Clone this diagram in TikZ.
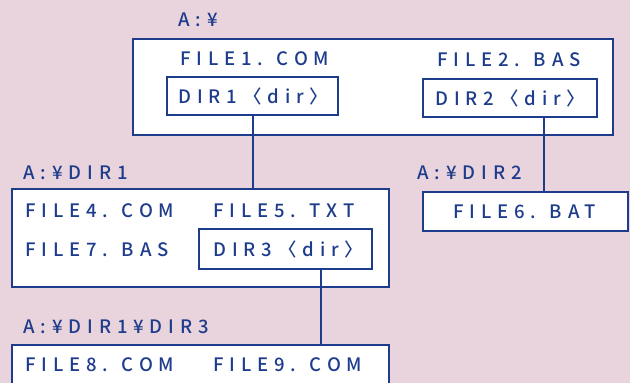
\documentclass[tikz,border=0pt]{standalone}
\usepackage{fontspec}
\setmainfont{Noto Sans CJK JP}
\newfontfamily\dosfont[LetterSpace=32, UprightFont=* Medium]{Noto Sans CJK JP}
\usepackage{xcolor}
\definecolor{dosink}{HTML}{1E3C8C}
\definecolor{dospaper}{HTML}{E9D3DC}

\begin{document}
\begin{tikzpicture}[x=1pt, y=-1pt,
                    every node/.style={dosink, font=\dosfont\fontsize{18.5}{22}\selectfont},
                    fname/.style={anchor=west, inner sep=0pt},
                    dirbox/.style={draw=dosink, line width=2pt, fill=white, inner sep=0pt},
                    treeline/.style={dosink, line width=2pt}]

  %% 紙の地
  \useasboundingbox (0,0) rectangle (630,383);
  \fill[dospaper] (0,0) rectangle (630,383);
  \clip (0,0) rectangle (630,383);

  %% ルートディレクトリ A:¥
  \node[fname] (rootpath) at (178,20) {A:¥};
  \node[dirbox, minimum width=480pt, minimum height=96pt] (rootbox) at (373,87) {};
  \node[dirbox, minimum width=171pt, minimum height=38pt] (dir1box) at (252.5,96) {};
  \node[dirbox, minimum width=174pt, minimum height=38pt] (dir2box) at (510,98) {};
  \node[fname] (file1) at (180,59) {FILE1. COM};
  \node[fname] (file2) at (437,60) {FILE2. BAS};
  \node[fname] (dir1) at (178,96) {DIR1〈dir〉};
  \node[fname] (dir2) at (435,98) {DIR2〈dir〉};

  %% サブディレクトリ A:¥DIR1
  \node[fname] (sub1path) at (23,173) {A:¥DIR1};
  \node[dirbox, minimum width=377pt, minimum height=98pt] (sub1box) at (200.5,238) {};
  \node[dirbox, minimum width=173pt, minimum height=40pt] (dir3box) at (285.5,249) {};
  \node[fname] (file4) at (25,211) {FILE4. COM};
  \node[fname] (file5) at (213,211) {FILE5. TXT};
  \node[fname] (file7) at (25,250) {FILE7. BAS};
  \node[fname] (dir3) at (213,249) {DIR3〈dir〉};

  %% サブディレクトリ A:¥DIR2
  \node[fname] (sub2path) at (417,173) {A:¥DIR2};
  \node[dirbox, minimum width=205pt, minimum height=39pt] (sub2box) at (525.5,211.5) {};
  \node[fname] (file6) at (453,212) {FILE6. BAT};

  %% サブディレクトリ A:¥DIR1¥DIR3
  \node[fname] (sub3path) at (23,327) {A:¥DIR1¥DIR3};
  \node[dirbox, minimum width=377pt, minimum height=60pt] (sub3box) at (200.5,375) {};
  \node[fname] (file8) at (25,365) {FILE8. COM};
  \node[fname] (file9) at (213,365) {FILE9. COM};

  %% 木の枝
  \coordinate (branch2) at (544,0);
  \coordinate (branch3) at (321,0);
  \draw[treeline] (dir1box.south) -- (dir1box.south |- sub1box.north);
  \draw[treeline] (dir2box.south -| branch2) -- (sub2box.north -| branch2);
  \draw[treeline] (dir3box.south -| branch3) -- (sub3box.north -| branch3);

\end{tikzpicture}
\end{document}
